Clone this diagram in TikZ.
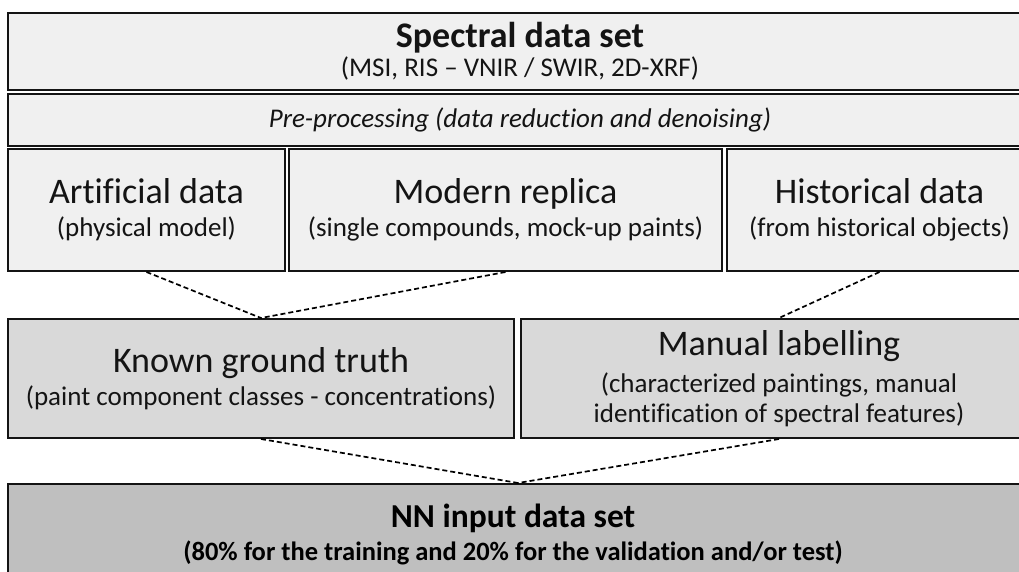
\documentclass[tikz,border=0pt]{standalone}
\usepackage{fontspec}
\setmainfont{Carlito}[Ligatures=NoCommon]
\definecolor{fillA}{RGB}{240,240,240}
\definecolor{fillB}{RGB}{217,217,217}
\definecolor{fillC}{RGB}{191,191,191}
\definecolor{edge}{RGB}{20,20,20}
\newcommand\BoxTitle[1]{{\fontsize{36}{40}\selectfont #1}}
\begin{document}
\begin{tikzpicture}[x=1pt,y=-1pt,
  box/.style={draw=edge, line width=2pt, rectangle, anchor=north west, inner sep=0pt, align=center,
              text=black!92, font=\fontsize{27}{33}\selectfont},
  light/.style={box, fill=fillA},
  mid/.style={box, fill=fillB},
  dark/.style={box, fill=fillC},
  link/.style={draw=black, line width=1.7pt, dash pattern=on 5pt off 3pt}]
\useasboundingbox (0,0) rectangle (1019,572);
\clip (0,0) rectangle (1019,572);
\fill[white] (0,0) rectangle (1019,572);

\node[light, minimum width=1024pt, minimum height=77pt] (spec) at (7,12)
  {\BoxTitle{\textbf{Spectral data set}}\\[-4pt] (MSI, RIS – VNIR / SWIR, 2D-XRF)};
\node[light, minimum width=1024pt, minimum height=52pt] (pre) at (7,93)
  {\textit{Pre-processing (data reduction and denoising)}};

\node[light, minimum width=277pt, minimum height=122pt] (art) at (7,148)
  {\BoxTitle{Artificial data}\\ (physical model)};
\node[light, minimum width=433pt, minimum height=122pt] (mod) at (288,148)
  {\BoxTitle{Modern replica}\\ (single compounds, mock-up paints)};
\node[light, minimum width=305pt, minimum height=122pt] (hist) at (726,148)
  {\BoxTitle{Historical data}\\ (from historical objects)};

\node[mid, minimum width=506pt, minimum height=119pt] (known) at (7,318)
  {\BoxTitle{Known ground truth}\\ (paint component classes - concentrations)};
\node[mid, minimum width=516pt, minimum height=119pt] (man) at (520,318)
  {\BoxTitle{Manual labelling}\\[4pt] (characterized paintings, manual\\[-3pt] identification of spectral features)};

\node[dark, minimum width=1020pt, minimum height=117pt] (nn) at (7,483) {};
\node[anchor=north, inner sep=0pt, align=center, text=black, font=\fontsize{26.5}{30}\selectfont\bfseries] (nntext) at (513,504)
  {{\fontsize{33.5}{38}\selectfont NN input data set}\\[3pt] (80\% for the training and 20\% for the validation and/or test)};

\draw[link] (art.south) -- (known.north);
\draw[link] (mod.south) -- (known.north);
\draw[link] (hist.south) -- (man.north);
\draw[link] (known.south) -- (nn.north);
\draw[link] (man.south) -- (nn.north);
\end{tikzpicture}
\end{document}
